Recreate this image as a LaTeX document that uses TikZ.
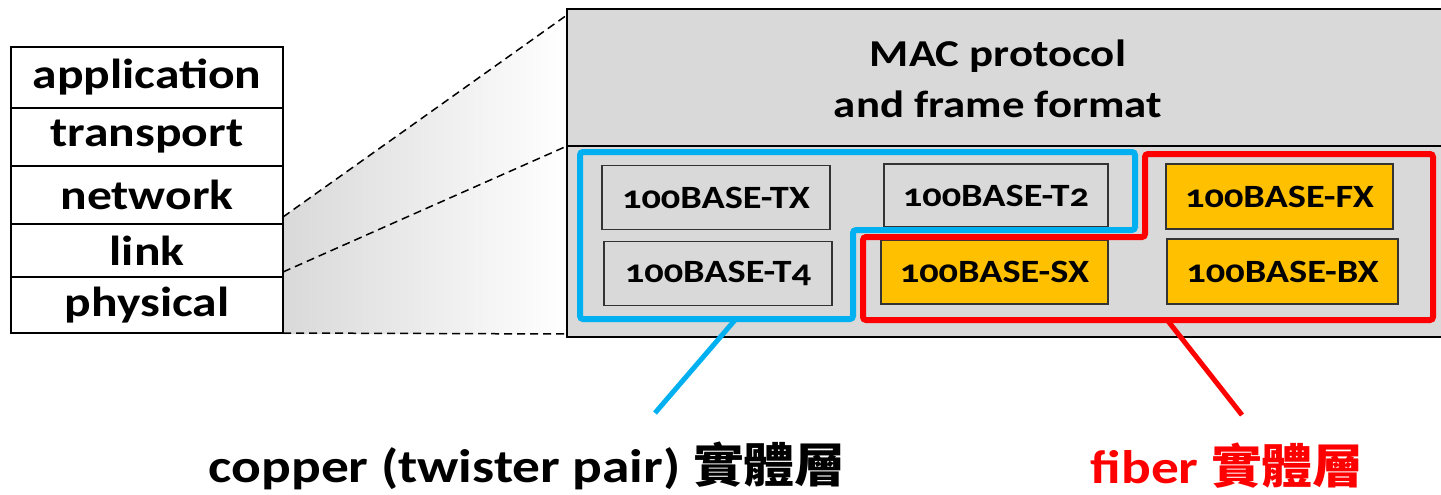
\documentclass[tikz,border=0pt]{standalone}
\usepackage{fontspec}
\setmainfont{Carlito}[Numbers=OldStyle, FakeStretch=1.18]
\newfontfamily\cjkfont{Noto Sans CJK TC}[FakeStretch=1.08]
\definecolor{mac gray}{HTML}{D9D9D9}
\definecolor{copper blue}{HTML}{00B0F0}
\definecolor{fiber red}{HTML}{FF0000}
\definecolor{phy orange}{HTML}{FFC000}
\tikzset{
    x={1pt},
    y={-1pt},
    layer/.style={
        draw=black, fill=white,
        line width={1.5pt},
        minimum width={272},
        minimum height={#1},
        inner sep=0pt, outer sep=0pt,
        font={\fontsize{42}{44}\selectfont\bfseries},
    },
    zoom line/.style={
        draw=black, dashed,
        line width={1.5pt},
        dash pattern=on 8pt off 5pt,
    },
    mac area/.style={
        draw=black, fill=mac gray,
        line width={1.5pt},
    },
    phy box/.style={
        draw=black!80, fill={#1},
        line width={1.2pt},
        minimum width={228},
        minimum height={64},
        inner sep=0pt, outer sep=0pt,
        font={\fontsize{32.5}{34}\selectfont\bfseries},
    },
    phy box/.default={mac gray},
    group outline/.style={
        draw={#1},
        line width={6pt},
        rounded corners={3pt},
    },
    pointer/.style={
        draw={#1},
        line width={5pt},
    },
    group label/.style={
        text={#1},
        font={\fontsize{47}{49}\selectfont\bfseries},
        inner sep=0pt,
    },
}

\begin{document}
\begin{tikzpicture}
\useasboundingbox (0,0) rectangle (1441,495);
% zoom region
\shade[left color=mac gray, right color=white] (283,217) -- (567,15) -- (567,334) -- (283,334) -- cycle;
% layer stack
\node[layer=61] (application) at (147,77.5) {application};
\node[layer=58] (transport) at (147,137) {transport};
\node[layer=58] (network) at (147,195) {network};
\node[layer=53] (link) at (147,250.5) {link};
\node[layer=56] (physical) at (147,305) {physical};
% mac area
\path[mac area] (567,9) rectangle (1450,337);
\path[draw=black, line width={1.5pt}] (567,146) -- (1450,146);
\node[align=center, font={\fontsize{38}{51}\selectfont\bfseries}] (mac) at (998,79) {MAC protocol\\and frame format};
% zoom lines
\coordinate (mac top) at (567,15);
\coordinate (mac mid) at (567,146);
\coordinate (mac bottom) at (567,334);
\path[zoom line] (link.north east) ++(0,-7) -- (mac top);
\path[zoom line] (physical.north east) ++(0,-5) -- (mac mid);
\path[zoom line] (physical.south east) -- (mac bottom);
% physical layers
\node[phy box] (tx) at (716,197.5) {100BASE-TX};
\node[phy box] (t4) at (718,273.5) {100BASE-T4};
\node[phy box, minimum width={224}, minimum height={63}] (t2) at (996,195.5) {100BASE-T2};
\node[phy box=phy orange, minimum width={227}] (sx) at (994.5,272) {100BASE-SX};
\node[phy box=phy orange, minimum width={227}, minimum height={65}] (fx) at (1279.5,196.5) {100BASE-FX};
\node[phy box=phy orange, minimum width={231}, minimum height={65}] (bx) at (1282.5,271.5) {100BASE-BX};
% groups
\path[group outline={copper blue}] (580,152) -- (1135,152) -- (1135,230) -- (853,230) -- (853,319) -- (580,319) -- cycle;
\path[group outline={fiber red}] (1145,154) -- (1433,154) -- (1433,320) -- (863,320) -- (863,237) -- (1145,237) -- cycle;
% labels
\node[group label=black] (copper) at (527,466) {copper (twister pair) {\cjkfont 實體層}};
\node[group label={fiber red}] (fiber) at (1227,466) {fiber {\cjkfont 實體層}};
\coordinate (copper start) at (735,320);
\coordinate (copper end) at (655,413);
\coordinate (fiber start) at (1168,321);
\coordinate (fiber end) at (1242,415);
\path[pointer={copper blue}] (copper start) -- (copper end);
\path[pointer={fiber red}] (fiber start) -- (fiber end);
\end{tikzpicture}
\end{document}
